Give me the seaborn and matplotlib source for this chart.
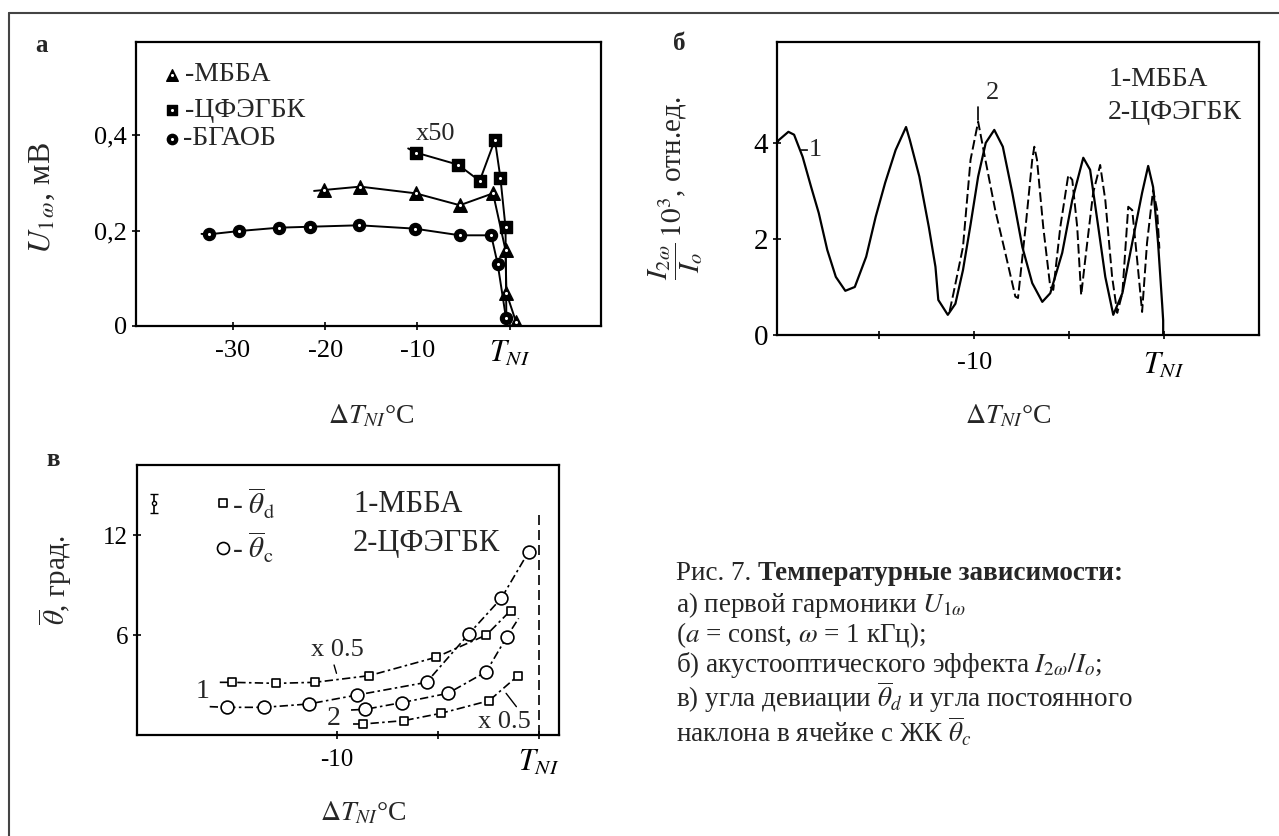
import numpy as np
import pandas as pd
import seaborn as sns
import matplotlib
matplotlib.use('Agg')
from matplotlib import pyplot as plt
from matplotlib.lines import Line2D

sns.set_theme(style='ticks')
plt.rcParams['font.family'] = ['Liberation Serif', 'DejaVu Serif']
plt.rcParams['mathtext.fontset'] = 'stix'

# --- panel a: U_1w vs dT ---
tri_x = [-20.1, -16.2, -10.2, -5.4, -1.8, -0.45, -0.35, 0.7]
tri_y = [0.285, 0.292, 0.278, 0.253, 0.278, 0.159, 0.069, 0.008]
sq_x = [-10.1, -5.6, -3.25, -1.6, -1.0, -0.45]
sq_y = [0.363, 0.338, 0.304, 0.39, 0.31, 0.207]
ci_x = [-32.6, -29.3, -25.0, -21.6, -16.3, -10.3, -5.4, -2.0, -1.3, -0.4]
ci_y = [0.192, 0.199, 0.206, 0.208, 0.211, 0.204, 0.19, 0.19, 0.13, 0.017]
# drawn curves (with lead-in / drop to zero)
tri_cx = [-21.2] + tri_x
tri_cy = [0.283] + tri_y
sq_cx = [-11.0] + sq_x + [-0.35]
sq_cy = [0.372] + sq_y + [0.0]
ci_cx = [-33.4] + ci_x
ci_cy = [0.193] + ci_y

# --- panel b: I2w/Io ---
c1_x = [-20.4, -20.3, -19.8, -19.5, -19.05, -18.6, -18.2, -17.75, -17.3, -16.8,
        -16.3, -15.7, -15.2, -14.7, -14.15, -13.6, -13.4, -12.9, -12.4, -12.05,
        -11.9, -11.4, -11.0, -10.6, -10.2, -9.8, -9.4, -8.95, -8.5, -8.0,
        -7.47, -6.95, -6.42, -6.0, -5.37, -4.84, -4.26, -3.9, -3.47, -3.1,
        -2.68, -2.2, -1.68, -1.16, -0.84, -0.58, -0.32, -0.1, -0.05, -0.05]
c1_y = [4.0, 4.06, 4.23, 4.17, 3.71, 3.08, 2.54, 1.77, 1.21, 0.92,
        1.0, 1.63, 2.46, 3.17, 3.85, 4.33, 4.06, 3.3, 2.25, 1.42,
        0.73, 0.42, 0.65, 1.35, 2.3, 3.3, 4.0, 4.27, 3.92, 2.96,
        1.83, 1.08, 0.69, 0.87, 1.71, 2.81, 3.69, 3.44, 2.25, 1.21,
        0.42, 0.87, 1.92, 2.96, 3.52, 3.08, 1.92, 0.62, 0.3, 0.0]
c2_x = [-11.3, -11.1, -10.6, -10.2, -9.8, -9.42, -8.9, -8.37, -7.84, -7.7,
        -7.3, -6.95, -6.84, -6.7, -6.37, -6.0, -5.84, -5.47, -5.05, -4.84,
        -4.58, -4.37, -4.16, -3.74, -3.37, -3.1, -2.74, -2.47, -2.2, -1.89,
        -1.68, -1.42, -1.16, -0.9, -0.58, -0.37, -0.25]
c2_y = [0.5, 0.87, 1.83, 3.65, 4.44, 3.65, 2.6, 1.71, 0.8, 0.77,
        2.25, 3.65, 3.92, 3.65, 2.25, 1.0, 0.94, 2.25, 3.33, 3.23,
        2.25, 0.83, 1.56, 2.96, 3.54, 2.81, 1.21, 0.46, 0.87, 2.67,
        2.6, 1.56, 0.48, 1.92, 3.02, 2.6, 1.8]

# --- panel v: theta ---
g1_sq_x = [-15.2, -13.0, -11.1, -8.4, -5.1, -2.6, -1.4]
g1_sq_y = [3.16, 3.1, 3.16, 3.56, 4.66, 6.0, 7.46]
g1_ci_x = [-15.45, -13.6, -11.4, -9.0, -5.56, -3.47, -1.86, -0.5]
g1_ci_y = [1.66, 1.66, 1.86, 2.4, 3.16, 6.06, 8.2, 11.0]
g2_ci_x = [-8.6, -6.8, -4.5, -2.6, -1.6]
g2_ci_y = [1.54, 1.94, 2.5, 3.8, 5.86]
g2_sq_x = [-8.7, -6.7, -4.85, -2.46, -1.05]
g2_sq_y = [0.66, 0.86, 1.3, 2.06, 3.54]

W, H = 1279, 836
fig = plt.figure(figsize=(W / 100, H / 100), dpi=100)

def box(l, t, r, b):
    return [l / W, 1 - b / H, (r - l) / W, (b - t) / H]

def style(ax, ls=18):
    for s in ax.spines.values():
        s.set_visible(True)
        s.set_color('black')
        s.set_linewidth(1.6)
    ax.tick_params(direction='inout', length=6, width=1.2, labelsize=ls, colors='black')
    ax.tick_params(axis='x', pad=7)
    ax.grid(False)

def curve(ax, x, y, **kw):
    df = pd.DataFrame({'x': x, 'y': y})
    sns.lineplot(data=df, x='x', y='y', ax=ax, sort=False, estimator=None,
                 color='black', **kw)

def marks(ax, x, y, z=5, **kw):
    df = pd.DataFrame({'x': x, 'y': y})
    sns.scatterplot(data=df, x='x', y='y', ax=ax, zorder=z, **kw)

def solid_marks(ax, x, y, marker, s):
    marks(ax, x, y, marker=marker, s=s, color='black', edgecolor='black', linewidth=1)
    marks(ax, x, y, z=6, marker='o', s=5, color='white', linewidth=0)

# ---------------- panel a ----------------
ax = fig.add_axes(box(136, 42, 601, 326))
style(ax, 19)
curve(ax, ci_cx, ci_cy, lw=1.4)
curve(ax, tri_cx, tri_cy, lw=1.4)
curve(ax, sq_cx, sq_cy, lw=1.4)
solid_marks(ax, ci_x, ci_y, 'o', 75)
solid_marks(ax, tri_x, tri_y, '^', 95)
solid_marks(ax, sq_x, sq_y, 's', 85)
solid_marks(ax, [-36.6], [0.526], '^', 70)
solid_marks(ax, [-36.6], [0.452], 's', 60)
solid_marks(ax, [-36.6], [0.392], 'o', 55)
ax.text(-35.2, 0.526, '-МББА', fontsize=20, va='center')
ax.text(-35.2, 0.452, '-ЦФЭГБК', fontsize=20, va='center')
ax.text(-35.4, 0.392, '-БГАОБ', fontsize=20, va='center')
ax.text(-10.2, 0.402, 'x50', fontsize=19, va='center')
ax.set_xlim(-40.5, 9.9)
ax.set_ylim(0, 0.595)
ax.set_xticks([-30, -20, -10, 0])
ax.set_xticklabels(['-30', '-20', '-10', '$T_{NI}$'])
ax.get_xticklabels()[-1].set_fontsize(22)
ax.set_yticks([0, 0.2, 0.4])
ax.set_yticklabels(['0', '0,2', '0,4'])
ax.set_xlabel(r'$\Delta T_{NI}$°C', fontsize=20)
ax.set_ylabel(r'$U_{1\,\omega}$, мВ', fontsize=23)
ax.xaxis.set_label_coords(0.505, -0.27)
ax.yaxis.set_label_coords(-0.17, 0.45)

# ---------------- panel b ----------------
ax = fig.add_axes(box(777, 42, 1259, 335))
style(ax, 21)
curve(ax, c1_x, c1_y, lw=1.6)
curve(ax, c2_x, c2_y, lw=1.4, linestyle=(0, (5, 2)))
ax.text(-19.2, 3.85, '-1', fontsize=19, va='center')
ax.text(-9.4, 5.04, '2', fontsize=19, va='center')
ax.plot([-9.8, -9.8], [4.75, 4.48], color='black', lw=1.2)
ax.text(-2.95, 5.31, '1-МББА', fontsize=20, va='center')
ax.text(-2.95, 4.63, '2-ЦФЭГБК', fontsize=20, va='center')
ax.set_xlim(-20.4, 5.0)
ax.set_ylim(0, 6.1)
ax.set_xticks([-15, -10, -5, 0])
ax.set_xticklabels(['', '-10', '', '$T_{NI}$'])
ax.tick_params(axis='x', labelsize=19, pad=9)
ax.get_xticklabels()[-1].set_fontsize(22)
ax.set_yticks([0, 2, 4])
ax.set_yticklabels(['0', '2', '4'])
ax.set_xlabel(r'$\Delta T_{NI}$°C', fontsize=20)
ax.set_ylabel(r'$\dfrac{I_{2\omega}}{I_o}\,10^3$, отн.ед.', fontsize=21)
ax.xaxis.set_label_coords(0.48, -0.232)
ax.yaxis.set_label_coords(-0.15, 0.5)

# ---------------- panel v ----------------
ax = fig.add_axes(box(137, 465, 559, 735))
style(ax, 18)
dd = (0, (5, 2, 1.5, 2))
curve(ax, [-15.8] + g1_sq_x, [3.16] + g1_sq_y, lw=1.2, linestyle=dd)
curve(ax, [-16.3] + g1_ci_x, [1.7] + g1_ci_y, lw=1.2, linestyle=dd)
curve(ax, [-9.3] + g2_ci_x + [-1.0], [1.5] + g2_ci_y + [7.0], lw=1.2, linestyle=dd)
curve(ax, [-9.2] + g2_sq_x, [0.66] + g2_sq_y, lw=1.2, linestyle=dd)
op = dict(color='white', edgecolor='black', linewidth=1.2)
marks(ax, g1_sq_x + g2_sq_x, g1_sq_y + g2_sq_y, marker='s', s=40, **op)
marks(ax, g1_ci_x + g2_ci_x, g1_ci_y + g2_ci_y, marker='o', s=85, **op)
ax.axvline(0, ymax=13.2 / 16.2, color='black', lw=1.2, linestyle=(0, (6, 3)))
ax.errorbar([-19.05], [13.9], yerr=[0.55], fmt='o', ms=3, mfc='white',
            mec='black', color='black', capsize=3, lw=1.2)
marks(ax, [-15.66], [13.9], marker='s', s=40, **op)
marks(ax, [-15.66], [11.24], marker='o', s=75, **op)
ax.text(-15.2, 13.9, r'- $\overline{\theta}_{\rm d}$', fontsize=21, va='center')
ax.text(-15.2, 11.24, r'- $\overline{\theta}_{\rm c}$', fontsize=21, va='center')
ax.text(-9.2, 13.8, '1-МББА', fontsize=22, va='center')
ax.text(-9.2, 11.5, '2-ЦФЭГБК', fontsize=22, va='center')
ax.text(-17.0, 2.6, '1', fontsize=20, va='center')
ax.text(-10.5, 1.0, '2', fontsize=20, va='center')
ax.text(-11.3, 5.1, 'x 0.5', fontsize=19, va='center')
ax.plot([-10.14, -10.02], [4.2, 3.7], color='black', lw=1.0)
ax.text(-3.0, 0.8, 'x 0.5', fontsize=19, va='center')
ax.plot([-1.62, -1.11], [2.5, 1.7], color='black', lw=1.0)
ax.set_xlim(-19.9, 1.0)
ax.set_ylim(0, 16.2)
ax.set_xticks([-10, -5, 0])
ax.set_xticklabels(['-10', '', '$T_{NI}$'])
ax.get_xticklabels()[-1].set_fontsize(22)
ax.set_yticks([6, 12])
ax.set_yticklabels(['6', '12'])
ax.set_xlabel(r'$\Delta T_{NI}$°C', fontsize=20)
ax.set_ylabel(r'$\overline{\theta}$, град.', fontsize=21)
ax.xaxis.set_label_coords(0.536, -0.24)
ax.yaxis.set_label_coords(-0.15, 0.574)

# panel letters
fig.text(41 / W, 1 - 45 / H, 'а', fontsize=18, fontweight='bold', ha='center', va='center')
fig.text(679 / W, 1 - 43 / H, 'б', fontsize=18, fontweight='bold', ha='center', va='center')
fig.text(53 / W, 1 - 460 / H, 'в', fontsize=18, fontweight='bold', ha='center', va='center')

# caption
cx = 676 / W
fs = 19.5
t0 = fig.text(cx, 1 - 573 / H, 'Рис. 7. ', fontsize=fs, va='center')
fig.add_artist(plt.Annotation('Температурные зависимости:', xy=(1, 0.5), xycoords=t0,
                              va='center', fontsize=fs, fontweight='bold'))
lines = ['а) первой гармоники $U_{1\\omega}$',
         '($a$ = const, $\\omega$ = 1 кГц);',
         'б) акустооптического эффекта $I_{2\\omega}/I_o$;',
         'в) угла девиации $\\overline{\\theta}_d$ и угла постоянного',
         'наклона в ячейке с ЖК $\\overline{\\theta}_c$']
fig.text(cx, 1 - 590 / H, '\n'.join(lines), fontsize=fs, va='top', linespacing=1.0)

# figure frame (top and left)
fig.add_artist(Line2D([9 / W, 1], [1 - 13 / H, 1 - 13 / H], color='#444444', lw=1.5))
fig.add_artist(Line2D([9 / W, 9 / W], [0, 1 - 13 / H], color='#444444', lw=1.5))

fig.savefig('out.png', dpi=100)
